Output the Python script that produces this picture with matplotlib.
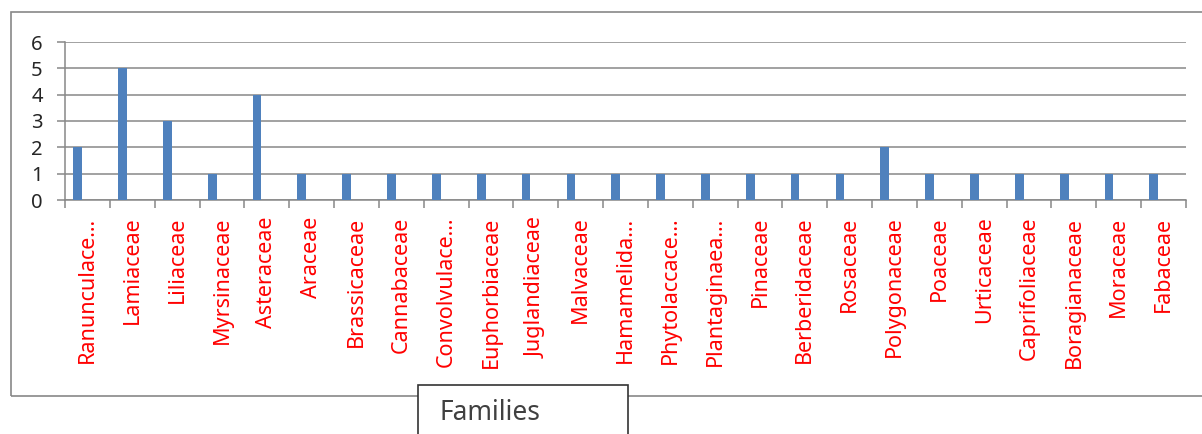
import matplotlib
matplotlib.use("Agg")
import matplotlib.pyplot as plt
from matplotlib.patches import Rectangle
import numpy as np

families = ["Ranunculace…", "Lamiaceae", "Liliaceae", "Myrsinaceae", "Asteraceae",
            "Araceae", "Brassicaceae", "Cannabaceae", "Convolvulace…", "Euphorbiaceae",
            "Juglandiaceae", "Malvaceae", "Hamamelida…", "Phytolaccace…", "Plantaginaea…",
            "Pinaceae", "Berberidaceae", "Rosaceae", "Polygonaceae", "Poaceae",
            "Urticaceae", "Caprifoliaceae", "Boragianaceae", "Moraceae", "Fabaceae"]
counts = [2, 5, 3, 1, 4, 1, 1, 1, 1, 1, 1, 1, 1, 1, 1, 1, 1, 1, 2, 1, 1, 1, 1, 1, 1]
y_ticks = [0, 1, 2, 3, 4, 5, 6]
axis_title = "Families"

plt.rcParams['font.family'] = ['Noto Sans', 'DejaVu Sans']

W, H = 1202, 434
fig = plt.figure(figsize=(W / 100, H / 100), dpi=100)
fig.patch.set_facecolor("white")

def fx(px):
    return px / W

def fy(py):
    return 1 - py / H

gray = "#888888"

# outer chart border
fig.patches.append(Rectangle((fx(11), fy(396)), fx(1250) - fx(11), fy(12) - fy(396),
                             transform=fig.transFigure, fill=False, edgecolor=gray,
                             linewidth=1.2, zorder=1))

ax = fig.add_axes([fx(65), fy(200), fx(1186) - fx(65), fy(42) - fy(200)])
n = len(families)
x = np.arange(n)
ax.bar(x + 0.185, counts, width=0.195, align="edge", color="#4F81BD", zorder=3)

ax.set_xlim(0, n)
ax.set_ylim(0, 6)
ax.set_yticks(y_ticks)
ax.set_yticklabels([str(v) for v in y_ticks], fontsize=14.5, color="#262626")
ax.yaxis.grid(True, color=gray, linewidth=1.1)
ax.set_axisbelow(True)

ax.set_xticks(x + 0.5)
ax.set_xticklabels(families, rotation=90, fontsize=15.5, color="red", va="top", ha="center")
ax.set_xticks(np.arange(n + 1), minor=True)
ax.tick_params(axis="x", which="major", length=0, pad=12)
ax.tick_params(axis="x", which="minor", length=6, width=1.1, color=gray, direction="out")
ax.tick_params(axis="y", length=6, width=1.1, color=gray, direction="out", pad=10)

for s in ["top", "right"]:
    ax.spines[s].set_visible(False)
for s in ["left", "bottom"]:
    ax.spines[s].set_color(gray)
    ax.spines[s].set_linewidth(1.1)

# axis title box
fig.patches.append(Rectangle((fx(418), fy(460)), fx(628) - fx(418), fy(385) - fy(460),
                             transform=fig.transFigure, facecolor="white", edgecolor="#333333",
                             linewidth=1.2, zorder=5))
fig.text(fx(439), fy(413), axis_title, fontsize=19, color="#404040", va="center",
         ha="left", zorder=6)

fig.savefig("out.png", dpi=100)
